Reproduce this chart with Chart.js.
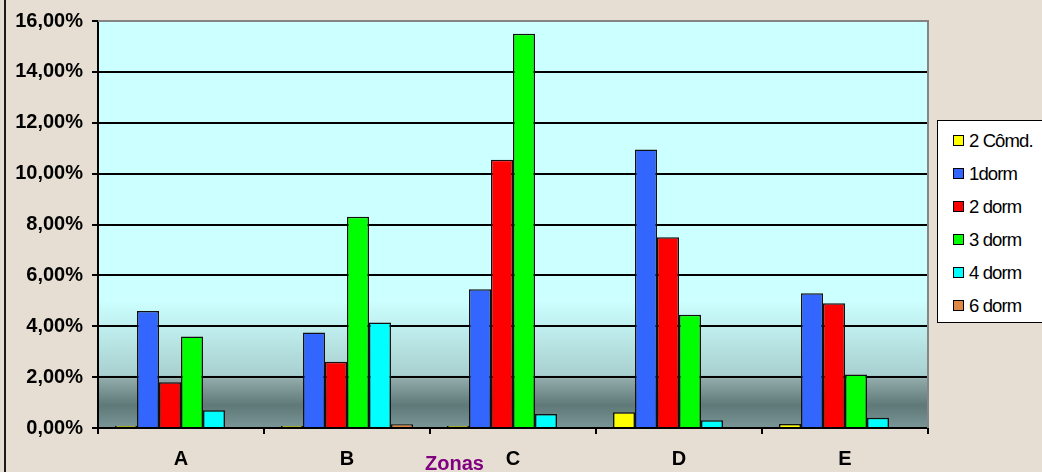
<!DOCTYPE html>
<html>
<head>
<meta charset="utf-8">
<script src="https://cdn.jsdelivr.net/npm/chart.js@4/dist/chart.umd.min.js"></script>
<style>
    body { margin: 0; background: #e6ded2; font-family: "Liberation Sans", Arial, sans-serif; }
    #wrap { position: relative; width: 1042px; height: 472px; overflow: hidden; background: #e6ded2; }
    #wrap:before { content: ''; position: absolute; left: 4px; top: 0; bottom: 0; border-left: 2px solid #1a1a1a; }
    #chart { position: absolute; left: 0; top: 0; }
    #legend { position: absolute; left: 937px; top: 120px; width: 120px; height: 203px;
        background: #fff; border: 1.5px solid #000; box-sizing: border-box; padding-top: 3px; }
    .lg-item { height: 33px; display: flex; align-items: center; font-size: 18.5px; letter-spacing: -0.9px; color: #000; }
    .lg-box { width: 9px; height: 9px; border: 1.5px solid #000; margin: 0 5px 0 15px; flex: none; }
    #xtitle { position: absolute; left: 425px; top: 452px; font-size: 20px; font-weight: bold; color: #800080; }
</style>
</head>
<body>
<div id="wrap">
    <canvas id="chart" width="1042" height="472"></canvas>
    <div id="legend"></div>
    <div id="xtitle">Zonas</div>
</div>
<script>
// Zones and series (values in %)
const zonas = ['A', 'B', 'C', 'D', 'E'];
const seriesNames = ['2 Cômd.', '1dorm', '2 dorm', '3 dorm', '4 dorm', '6 dorm'];
const seriesColors = ['#ffff00', '#3366ff', '#ff0000', '#00ff00', '#00ffff', '#dd8844'];

const comd2 = [0.08, 0.08, 0.08, 0.62, 0.16];
const dorm1 = [4.6, 3.75, 5.45, 10.95, 5.3];
const dorm2 = [1.8, 2.6, 10.55, 7.5, 4.9];
const dorm3 = [3.6, 8.3, 15.5, 4.45, 2.1];
const dorm4 = [0.7, 4.15, 0.55, 0.3, 0.4];
const dorm6 = [0, 0.15, 0, 0, 0];

const yMin = 0, yMax = 16, yStep = 2;

const seriesValues = [comd2, dorm1, dorm2, dorm3, dorm4, dorm6];

// plot background: cyan fading to slate at the bottom, grey frame top/right
const plotBackground = {
    id: 'plotBackground',
    beforeDraw(chart) {
        const { ctx, chartArea: { left, top, right, bottom } } = chart;
        const y = chart.scales.y;
        const g = ctx.createLinearGradient(0, top, 0, bottom);
        const f = v => (y.getPixelForValue(v) - top) / (bottom - top);
        g.addColorStop(0, '#ccffff');
        g.addColorStop(f(5), '#ccffff');
        g.addColorStop(f(2.1), '#a9d0d0');
        g.addColorStop(f(1.9), '#8fa9a9');
        g.addColorStop(f(0.9), '#5f7878');
        g.addColorStop(1, '#7a9696');
        ctx.save();
        ctx.fillStyle = g;
        ctx.fillRect(left, top, right - left, bottom - top);
        ctx.restore();
    },
    afterDraw(chart) {
        const { ctx, chartArea: { left, top, right, bottom } } = chart;
        ctx.save();
        ctx.strokeStyle = '#858585';
        ctx.lineWidth = 2;
        ctx.beginPath();
        ctx.moveTo(left, top);
        ctx.lineTo(right, top);
        ctx.lineTo(right, bottom);
        ctx.stroke();
        ctx.restore();
    }
};

const chart = new Chart(document.getElementById('chart'), {
    type: 'bar',
    data: {
        labels: zonas,
        datasets: seriesNames.map((name, i) => ({
            label: name,
            data: seriesValues[i],
            backgroundColor: seriesColors[i],
            borderColor: '#111',
            borderWidth: 1.5,
            categoryPercentage: 0.795,
            barPercentage: 1.0
        }))
    },
    options: {
        responsive: false,
        animation: false,
        layout: { padding: { top: 20, right: 114, left: 0, bottom: 0 } },
        plugins: {
            legend: { display: false },
            tooltip: { enabled: false }
        },
        scales: {
            x: {
                grid: { drawOnChartArea: false, color: '#000', lineWidth: 2, tickLength: 6, offset: true },
                border: { color: '#000', width: 2 },
                ticks: { color: '#000', padding: 13, font: { family: 'Liberation Sans', size: 20, weight: 'bold' } },
                afterFit: s => { s.height = 44; }
            },
            y: {
                min: yMin,
                max: yMax,
                ticks: {
                    stepSize: yStep,
                    color: '#000',
                    padding: 9,
                    font: { family: 'Liberation Sans', size: 20, weight: 'bold' },
                    callback: v => v.toFixed(2).replace('.', ',') + '%'
                },
                grid: { color: '#000', lineWidth: 2, tickLength: 6 },
                border: { color: '#000', width: 2 },
                afterFit: s => { s.width = 98; }
            }
        }
    },
    plugins: [plotBackground]
});

// HTML legend with boxed frame
const legend = document.getElementById('legend');
legend.innerHTML = chart.data.datasets.map(ds => `
    <div class="lg-item"><span class="lg-box" style="background:${ds.backgroundColor}"></span>${ds.label}</div>
`).join('');
</script>
</body>
</html>
